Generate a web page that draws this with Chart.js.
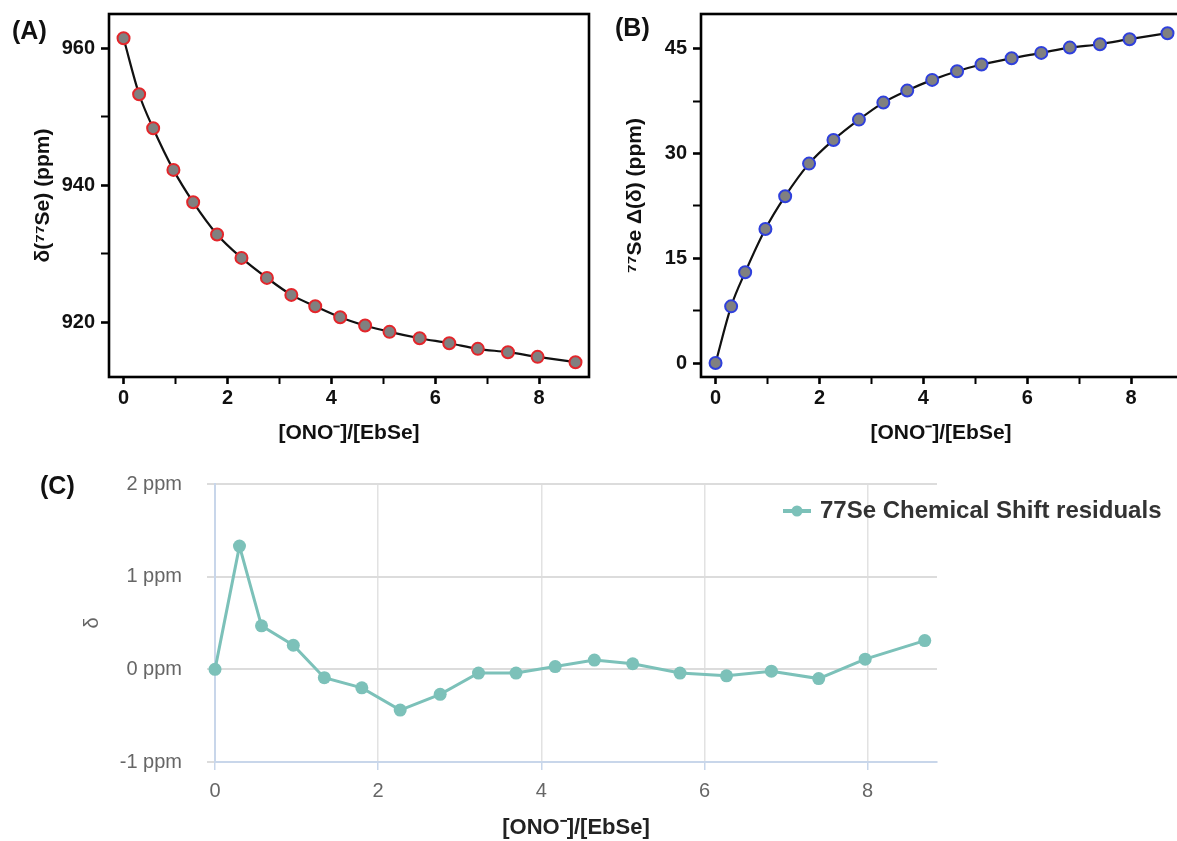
<!DOCTYPE html>
<html>
<head>
<meta charset="utf-8">
<title>77Se titration of EbSe with ONO-</title>
<script src="https://cdn.jsdelivr.net/npm/chart.js@4/dist/chart.umd.min.js"></script>
<style>
  html, body { margin: 0; padding: 0; background: #fff; overflow: hidden; }
  body { width: 1177px; height: 841px; position: relative; }
  canvas { position: absolute; }
  .tag { position: absolute; font: bold 25px "Liberation Sans", Arial, sans-serif; color: #111; line-height: 30px; }
</style>
</head>
<body>
<canvas id="chartA" width="600" height="450" style="left:0;top:0"></canvas>
<canvas id="chartB" width="600" height="450" style="left:592px;top:0"></canvas>
<canvas id="chartC" width="1177" height="381" style="left:0;top:460px"></canvas>
<div class="tag" style="left:12px;top:15px">(A)</div>
<div class="tag" style="left:615px;top:12px">(B)</div>
<div class="tag" style="left:40px;top:470px">(C)</div>
<script>
// [ONO-]/[EbSe] ratio for each titration point
var ratio = [0, 0.3, 0.57, 0.96, 1.34, 1.8, 2.27, 2.76, 3.23, 3.69, 4.17, 4.65, 5.12, 5.7, 6.27, 6.82, 7.4, 7.97, 8.7];
// observed 77Se shift (ppm)
var shiftSe = [961.46, 953.28, 948.32, 942.24, 937.52, 932.8, 929.39, 926.47, 923.99, 922.33,
               920.73, 919.51, 918.59, 917.66, 916.93, 916.11, 915.62, 914.94, 914.16];
// change in shift relative to free EbSe (ppm)
var deltaShift = [0, 8.12, 13.0, 19.2, 23.9, 28.57, 31.96, 34.87, 37.31, 39.03,
                  40.56, 41.8, 42.76, 43.66, 44.43, 45.19, 45.67, 46.39, 47.25];
// fit residuals (ppm)
var residuals = [0, 1.33, 0.47, 0.26, -0.09, -0.2, -0.44, -0.27, -0.04, -0.04,
                 0.03, 0.1, 0.06, -0.04, -0.07, -0.02, -0.1, 0.11, 0.31];

var ratioTicks = [0, 2, 4, 6, 8];
var shiftTicks = [920, 940, 960];
var deltaTicks = [0, 15, 30, 45];
var residualTicks = [-1, 0, 1, 2];

var residualLabel = '77Se Chemical Shift residuals';
var xTitle = '[ONO\u207B]/[EbSe]';

Chart.defaults.animation = false;
Chart.defaults.font.family = '"Liberation Sans", Arial, sans-serif';

function toPoints(ys) {
    return ratio.map(function (x, i) { return {x: x, y: ys[i]}; });
}

// fixed axis box sizes, no extra room for overhanging labels
function fixedWidth(w) {
    return function (s) { s.width = w; s.paddingTop = 0; s.paddingBottom = 0; };
}
function fixedHeight(h) {
    return function (s) { s.height = h; s.paddingLeft = 0; s.paddingRight = 0; };
}

// black box around the plot area (Origin style)
var plotFrame = {
    id: 'plotFrame',
    afterDraw: function (chart) {
        var a = chart.chartArea, ctx = chart.ctx;
        ctx.save();
        ctx.strokeStyle = '#000';
        ctx.lineWidth = 2.6;
        ctx.strokeRect(a.left, a.top, a.right - a.left, a.bottom - a.top);
        ctx.restore();
    }
};

// legend item sitting at the top right corner of the plot
var residualLegend = {
    id: 'residualLegend',
    afterDraw: function (chart) {
        var ds = chart.data.datasets[0];
        var ctx = chart.ctx;
        var x = chart.chartArea.right - 154, y = chart.chartArea.top + 27;
        ctx.save();
        ctx.strokeStyle = ds.borderColor;
        ctx.fillStyle = ds.borderColor;
        ctx.lineWidth = 4;
        ctx.beginPath();
        ctx.moveTo(x, y);
        ctx.lineTo(x + 28, y);
        ctx.stroke();
        ctx.beginPath();
        ctx.arc(x + 14, y, 5.5, 0, Math.PI * 2);
        ctx.fill();
        ctx.font = 'bold 24px "Liberation Sans", Arial, sans-serif';
        ctx.fillStyle = '#333';
        ctx.textBaseline = 'middle';
        ctx.fillText(ds.label, x + 37, y);
        ctx.restore();
    }
};

function originOptions(yMin, yMax, yStep, yTicks, yTitle) {
    return {
        responsive: false,
        layout: {padding: {top: 14, right: 11, left: 0, bottom: 0}},
        plugins: {legend: {display: false}, tooltip: {enabled: false}},
        scales: {
            x: {
                type: 'linear', min: -0.28, max: 8.96,
                afterFit: fixedHeight(73),
                border: {display: false},
                grid: {drawOnChartArea: false, tickLength: 7, tickColor: '#000',
                       tickWidth: function (c) { return c.tick && ratioTicks.indexOf(c.tick.value) >= 0 ? 2.6 : 2; }},
                ticks: {
                    stepSize: 1, includeBounds: false, padding: 2, maxRotation: 0, autoSkip: false,
                    color: '#111', font: {size: 20, weight: 'bold'},
                    callback: function (v) { return ratioTicks.indexOf(v) >= 0 ? v : ''; }
                },
                title: {display: true, text: xTitle, color: '#111',
                        font: {size: 21, weight: 'bold'}, padding: {top: 0, bottom: 4}}
            },
            y: {
                min: yMin, max: yMax,
                afterFit: fixedWidth(109),
                border: {display: false},
                grid: {drawOnChartArea: false, tickLength: 8, tickColor: '#000',
                       tickWidth: function (c) { return c.tick && yTicks.indexOf(c.tick.value) >= 0 ? 2.6 : 2; }},
                ticks: {
                    stepSize: yStep, includeBounds: false, padding: 6, autoSkip: false,
                    color: '#111', font: {size: 20, weight: 'bold'},
                    callback: function (v) { return yTicks.indexOf(v) >= 0 ? v : ''; }
                },
                title: {display: true, text: yTitle, color: '#111',
                        font: {size: 21, weight: 'bold'}, padding: {top: 31, bottom: 0}}
            }
        }
    };
}

function originDataset(ys, ring) {
    return {
        data: toPoints(ys),
        showLine: true,
        clip: false,
        borderColor: '#111',
        borderWidth: 2.2,
        cubicInterpolationMode: 'monotone',
        pointRadius: 6,
        pointBorderWidth: 2,
        pointBackgroundColor: '#808080',
        pointBorderColor: ring
    };
}

new Chart(document.getElementById('chartA'), {
    type: 'scatter',
    data: {datasets: [originDataset(shiftSe, '#e3262b')]},
    options: originOptions(912, 965, 10, shiftTicks, '\u03B4(\u2077\u2077Se) (ppm)'),
    plugins: [plotFrame]
});

new Chart(document.getElementById('chartB'), {
    type: 'scatter',
    data: {datasets: [originDataset(deltaShift, '#2f40dc')]},
    options: originOptions(-2, 50, 7.5, deltaTicks, '\u2077\u2077Se \u0394(\u03B4) (ppm)'),
    plugins: [plotFrame]
});

// residuals of the binding fit
var teal = '#7cc1b9';
var axisBlue = '#c8d6ea';
new Chart(document.getElementById('chartC'), {
    type: 'scatter',
    data: {
        datasets: [{
            label: residualLabel,
            data: toPoints(residuals),
            showLine: true,
            clip: false,
            borderColor: teal,
            backgroundColor: teal,
            borderWidth: 3,
            pointRadius: 6.5,
            pointBorderWidth: 0,
            pointBackgroundColor: teal
        }]
    },
    options: {
        responsive: false,
        layout: {padding: {top: 24, right: 240, left: 0, bottom: 0}},
        plugins: {legend: {display: false}, tooltip: {enabled: false}},
        scales: {
            x: {
                type: 'linear', min: 0, max: 8.85,
                afterFit: fixedHeight(79),
                border: {display: true, color: axisBlue, width: 2},
                grid: {color: function (c) { return c.tick && c.tick.value === 0 ? axisBlue : '#e2e2e2'; },
                       lineWidth: 1.5, tickLength: 8, tickColor: axisBlue},
                ticks: {stepSize: 2, includeBounds: false, padding: 9, maxRotation: 0,
                        color: '#666', font: {size: 20}},
                title: {display: true, text: xTitle, color: '#222',
                        font: {size: 22, weight: 'bold'}, padding: {top: 0, bottom: 0}}
            },
            y: {
                min: -1, max: 2,
                afterFit: fixedWidth(215),
                border: {display: true, color: axisBlue, width: 2},
                grid: {color: function (c) { return c.tick && c.tick.value === -1 ? axisBlue : '#dcdcdc'; },
                       lineWidth: 2, tickLength: 8, tickColor: '#dcdcdc'},
                ticks: {
                    stepSize: 1, padding: 25, color: '#666', font: {size: 20},
                    callback: function (v) { return residualTicks.indexOf(v) >= 0 ? v + ' ppm' : ''; }
                },
                title: {display: true, text: '\u03B4', color: '#666',
                        font: {size: 20}, padding: {top: 80, bottom: 0}}
            }
        }
    },
    plugins: [residualLegend]
});
</script>
</body>
</html>
